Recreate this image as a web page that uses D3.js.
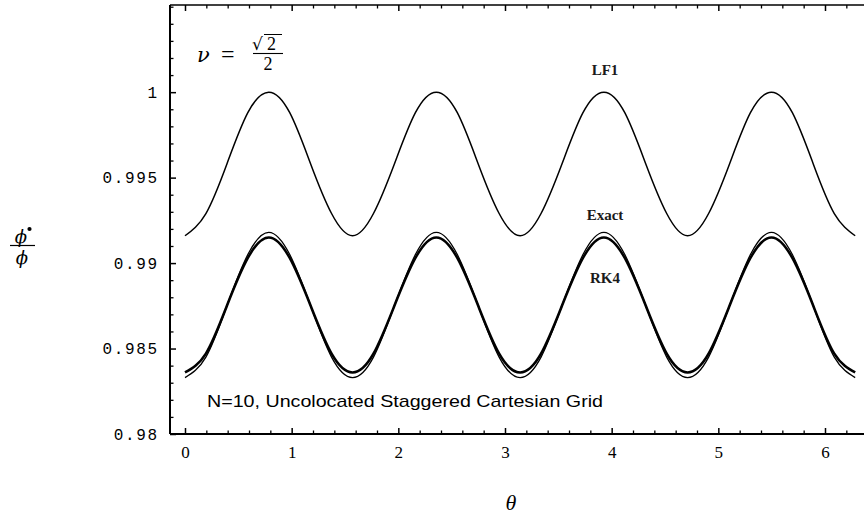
<!DOCTYPE html>
<html><head><meta charset="utf-8">
<script src="https://cdn.jsdelivr.net/npm/d3@7"></script>
<style>body{margin:0;background:#fff}svg{display:block}</style>
</head><body>
<script>
// ---- data ----
const theta = [0,0.196,0.393,0.589,0.785,0.982,1.178,1.374,1.571,1.767,1.963,2.160,2.356,2.553,2.749,2.945,3.142,3.338,3.534,3.731,3.927,4.123,4.320,4.516,4.712,4.909,5.105,5.301,5.498,5.694,5.890,6.087,6.283];
const lf1 = [0.9916,0.9929,0.9958,0.9988,1.0000,0.9988,0.9958,0.9929,
             0.9916,0.9929,0.9958,0.9988,1.0000,0.9988,0.9958,0.9929,
             0.9916,0.9929,0.9958,0.9988,1.0000,0.9988,0.9958,0.9929,
             0.9916,0.9929,0.9958,0.9988,1.0000,0.9988,0.9958,0.9929,0.9916];
const exact = [0.9833,0.9845,0.9875,0.9905,0.9918,0.9905,0.9875,0.9845,
               0.9833,0.9845,0.9875,0.9905,0.9918,0.9905,0.9875,0.9845,
               0.9833,0.9845,0.9875,0.9905,0.9918,0.9905,0.9875,0.9845,
               0.9833,0.9845,0.9875,0.9905,0.9918,0.9905,0.9875,0.9845,0.9833];
const rk4 = [0.9836,0.9847,0.9875,0.9903,0.9915,0.9903,0.9875,0.9847,
             0.9836,0.9847,0.9875,0.9903,0.9915,0.9903,0.9875,0.9847,
             0.9836,0.9847,0.9875,0.9903,0.9915,0.9903,0.9875,0.9847,
             0.9836,0.9847,0.9875,0.9903,0.9915,0.9903,0.9875,0.9847,0.9836];
const xMajor = [0,1,2,3,4,5,6];
const yMajor = [0.98,0.985,0.99,0.995,1];
const yLabels = ["0.98","0.985","0.99","0.995","1"];

const W = 864, H = 514;
const svg = d3.select("body").append("svg").attr("width", W).attr("height", H);

const x = d3.scaleLinear().domain([-0.1406, 6.4219]).range([170, 870]);
const y = d3.scaleLinear().domain([0.98, 1.0051]).range([434, 5]);

const xMinor = d3.range(0, 6.41, 0.2).filter(v => Math.abs(v - Math.round(v)) > 1e-6);
const yMinor = d3.range(0.98, 1.0051, 0.001).filter(v => !yMajor.some(m => Math.abs(m - v) < 1e-6));

// frame lines
const g = svg.append("g");
g.append("line").attr("x1", 170).attr("x2", W).attr("y1", 434).attr("y2", 434).attr("stroke", "#000").attr("stroke-width", 1.8);
g.append("line").attr("x1", 170).attr("x2", W).attr("y1", 5).attr("y2", 5).attr("stroke", "#000").attr("stroke-width", 1.6);
g.append("line").attr("x1", 170).attr("x2", 170).attr("y1", 5).attr("y2", 434).attr("stroke", "#000").attr("stroke-width", 2);

const serif = "Liberation Serif, Times New Roman, serif";

// bottom axis (ticks inward)
const bottom = d3.axisBottom(x).tickValues(xMajor).tickSize(-6).tickPadding(12).tickFormat(d3.format("d"));
const gb = svg.append("g").attr("transform", "translate(0,434)").call(bottom);
gb.select(".domain").remove();
gb.selectAll("text").attr("font-family", serif).attr("font-size", 17).attr("fill", "#000");
gb.selectAll("line").attr("stroke-width", 1.5);
const gbm = svg.append("g").attr("transform", "translate(0,434)").call(d3.axisBottom(x).tickValues(xMinor).tickSize(-3.5).tickFormat(""));
gbm.select(".domain").remove();
gbm.selectAll("line").attr("stroke-width", 1.3);

// top axis ticks
const gt = svg.append("g").attr("transform", "translate(0,5)").call(d3.axisTop(x).tickValues(xMajor).tickSize(-6).tickFormat(""));
gt.select(".domain").remove(); gt.selectAll("line").attr("stroke-width", 1.5);
const gtm = svg.append("g").attr("transform", "translate(0,5)").call(d3.axisTop(x).tickValues(xMinor).tickSize(-3.5).tickFormat(""));
gtm.select(".domain").remove(); gtm.selectAll("line").attr("stroke-width", 1.3);

// left axis
const left = d3.axisLeft(y).tickValues(yMajor).tickSize(-6).tickPadding(13).tickFormat((d, i) => yLabels[i]);
const gl = svg.append("g").attr("transform", "translate(170,0)").call(left);
gl.select(".domain").remove();
gl.selectAll("line").attr("stroke-width", 1.5);
gl.selectAll("text").attr("font-family", "Liberation Mono, Courier New, monospace").attr("font-size", 16)
  .attr("letter-spacing", "1.6px").attr("fill", "#000").attr("dx", "1.6");
const glm = svg.append("g").attr("transform", "translate(170,0)").call(d3.axisLeft(y).tickValues(yMinor).tickSize(-3.5).tickFormat(""));
glm.select(".domain").remove(); glm.selectAll("line").attr("stroke-width", 1.3);

// curves
svg.append("defs").append("clipPath").attr("id", "clip").append("rect").attr("x", 171).attr("y", 5).attr("width", 700).attr("height", 429);
const line = d3.line().x(d => x(d[0])).y(d => y(d[1])).curve(d3.curveNatural);
const plot = svg.append("g").attr("clip-path", "url(#clip)");
plot.append("path").datum(theta.map((t, i) => [t, lf1[i]])).attr("d", line).attr("fill", "none").attr("stroke", "#000").attr("stroke-width", 1.5);
plot.append("path").datum(theta.map((t, i) => [t, exact[i]])).attr("d", line).attr("fill", "none").attr("stroke", "#000").attr("stroke-width", 1.3);
plot.append("path").datum(theta.map((t, i) => [t, rk4[i]])).attr("d", line).attr("fill", "none").attr("stroke", "#000").attr("stroke-width", 2.6);

// curve labels
const lab = (t, cx, by) => svg.append("text").attr("x", cx).attr("y", by).attr("text-anchor", "middle")
  .attr("font-family", serif).attr("font-size", 15).attr("font-weight", "bold").attr("fill", "#1a1a1a").text(t);
lab("LF1", 605, 75);
lab("Exact", 605, 220);
lab("RK4", 605, 283);

// annotation
svg.append("text").attr("x", 207).attr("y", 407).attr("font-family", "Liberation Sans, Arial, sans-serif")
  .attr("font-size", 17).attr("textLength", 396).attr("lengthAdjust", "spacingAndGlyphs")
  .attr("fill", "#000").text("N=10, Uncolocated Staggered Cartesian Grid");

// nu = sqrt(2)/2
const mathF = "DejaVu Serif, Liberation Serif, serif";
svg.append("text").attr("x", 197).attr("y", 62).attr("font-family", mathF).attr("font-style", "italic").attr("font-size", 21).text("ν");
svg.append("text").attr("x", 221).attr("y", 62).attr("font-family", serif).attr("font-size", 24).text("=");
svg.append("text").attr("x", 252).attr("y", 50).attr("font-family", mathF).attr("font-size", 17).text("√");
svg.append("line").attr("x1", 264).attr("x2", 282).attr("y1", 34.5).attr("y2", 34.5).attr("stroke", "#000").attr("stroke-width", 1);
svg.append("text").attr("x", 267).attr("y", 50).attr("font-family", serif).attr("font-size", 18).text("2");
svg.append("line").attr("x1", 253).attr("x2", 283).attr("y1", 53.5).attr("y2", 53.5).attr("stroke", "#000").attr("stroke-width", 1.1);
svg.append("text").attr("x", 268).attr("y", 70).attr("text-anchor", "middle").attr("font-family", serif).attr("font-size", 18).text("2");

// x label
svg.append("text").attr("x", 511).attr("y", 510).attr("text-anchor", "middle").attr("font-family", serif)
  .attr("font-style", "italic").attr("font-size", 22).text("θ");

// y label phi-dot / phi
svg.append("text").attr("x", 21).attr("y", 243).attr("text-anchor", "middle").attr("font-family", mathF)
  .attr("font-style", "italic").attr("font-size", 18).text("ϕ");
svg.append("circle").attr("cx", 29.5).attr("cy", 229).attr("r", 2.1).attr("fill", "#000");
svg.append("line").attr("x1", 10).attr("x2", 35).attr("y1", 245.5).attr("y2", 245.5).attr("stroke", "#000").attr("stroke-width", 1.2);
svg.append("text").attr("x", 22).attr("y", 264).attr("text-anchor", "middle").attr("font-family", mathF)
  .attr("font-style", "italic").attr("font-size", 18).text("ϕ");
</script>
</body></html>
